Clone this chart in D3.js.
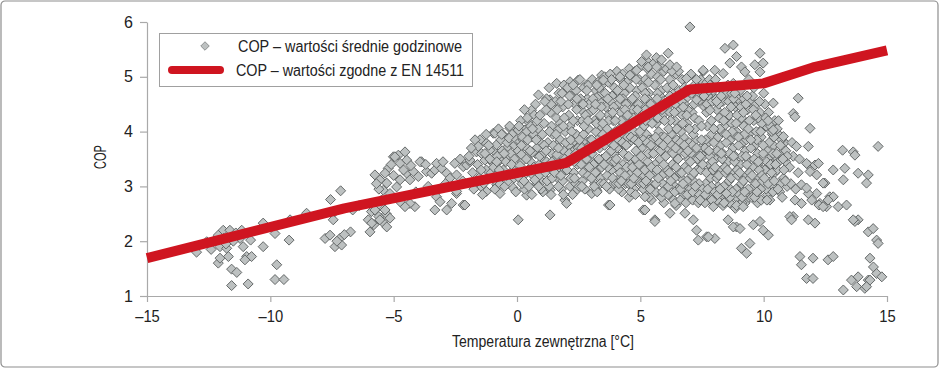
<!DOCTYPE html>
<html>
<head>
<meta charset="utf-8">
<script src="https://cdn.jsdelivr.net/npm/d3@7"></script>
<style>
  html, body { margin: 0; padding: 0; background: #fff; }
  svg { display: block; }
  text { font-family: "Liberation Sans Narrow", "Arial Narrow", "Liberation Sans", Arial, sans-serif; fill: #222; }
</style>
</head>
<body>
<svg id="chart" width="940" height="369"></svg>
<script>
// ---------- DATA ----------
const xTicks = [-15, -10, -5, 0, 5, 10, 15];
const yTicks = [1, 2, 3, 4, 5, 6];
const xTitle = "Temperatura zewnętrzna [°C]";
const yTitle = "COP";
const legendLabels = ["COP – wartości średnie godzinowe", "COP – wartości zgodne z EN 14511"];

// EN 14511 curve: temperature [°C] -> COP
const enTemp = [-15, -7, 2, 7, 10, 12, 15];
const enCOP  = [1.69, 2.60, 3.43, 4.77, 4.88, 5.17, 5.48];

// Hourly average COP points: [temperature, COP]
const hourlyPoints = [
  // cluster around -12 .. -9
  [-12.99,1.80],[-12.58,1.99],[-12.11,2.11],[-12.04,1.90],[-12.11,1.60],[-11.91,2.20],[-11.64,2.20],[-11.77,1.87],
  [-11.70,1.72],[-12.04,1.69],[-11.57,1.49],[-11.36,1.43],[-11.57,1.19],[-11.16,2.20],[-11.23,2.05],[-11.10,1.90],
  [-10.96,1.72],[-11.03,1.66],[-10.76,1.72],[-10.80,2.02],[-10.90,1.22],[-10.29,1.90],[-10.29,2.33],[-9.81,2.14],
  [-9.74,1.57],[-9.81,1.30],[-9.45,1.30],[-9.24,2.02],[-9.20,2.39],[-11.50,2.00],[-11.90,2.05],[-12.30,2.00],
  [-11.40,2.15],[-11.80,1.95],[-12.40,1.85],
  // cluster around -8.5 .. -6.5
  [-8.53,2.51],[-7.78,2.05],[-7.58,2.11],[-7.38,1.90],[-7.18,2.05],[-7.11,1.93],[-7.45,2.39],[-7.56,2.76],
  [-7.15,2.92],[-7.38,2.54],[-6.75,2.17],[-6.66,2.57],[-7.30,2.00],[-7.00,2.12],[-6.40,2.65],
  // cluster around -6 .. -2
  [-5.96,2.17],[-6.03,2.39],[-5.90,2.54],[-5.80,2.30],[-5.60,2.45],[-5.45,2.35],[-5.30,2.50],[-5.49,2.75],
  [-5.76,3.21],[-5.01,3.54],[-4.81,3.57],[-4.54,3.63],[-4.47,3.48],[-4.74,3.42],[-5.22,3.33],[-5.35,3.24],
  [-5.56,3.12],[-5.28,3.06],[-5.42,2.93],[-5.15,2.87],[-4.88,2.99],[-4.74,3.12],[-4.47,3.24],[-4.20,3.27],
  [-4.34,3.12],[-4.00,3.18],[-3.87,3.45],[-3.67,3.27],[-3.46,3.24],[-3.33,3.30],[-3.26,3.42],[-3.06,3.33],
  [-2.85,3.24],[-2.72,3.15],[-2.52,3.42],[-2.45,3.21],[-2.18,3.36],[-2.04,3.39],[-3.26,2.81],[-3.12,2.72],
  [-3.33,2.57],[-2.85,2.57],[-2.65,2.69],[-2.18,2.66],[-2.45,2.87],[-4.14,2.63],[-4.34,2.69],[-4.54,2.63],
  [-4.74,2.72],[-5.62,2.66],[-5.76,2.57],[-5.35,2.57],[-5.15,2.42],[-5.56,2.39],[-5.89,2.33],[-5.28,2.26],
  [-3.93,3.45],[-4.95,3.54],[-5.10,3.40],[-4.60,3.30],[-5.00,3.20],[-5.60,2.95],[-5.70,3.05],[-4.30,3.38],
  [-3.70,3.40],[-3.00,3.45],[-2.30,3.50],[-1.90,3.45],[-4.10,2.90],[-3.60,3.00],[-2.90,3.05],[-2.20,3.10],
  // -2 .. 0
  [-1.44,2.99],[-1.24,3.79],[-1.50,3.85],[-0.96,3.66],[-1.03,3.45],[-1.24,3.30],[-1.03,3.18],[-0.82,3.03],
  [-1.24,2.91],[-0.96,3.97],[-1.64,3.63],[-1.70,3.85],[-1.57,3.73],[-1.44,3.60],[-1.10,3.66],[-0.83,3.76],
  [-0.89,3.97],[-0.56,3.94],[-0.29,4.06],[-0.42,3.70],[-0.62,3.57],[-0.29,3.54],[-0.01,3.60],[-0.69,3.48],
  [-1.30,3.48],[-1.91,3.48],[-2.45,2.91],[-2.11,2.66],[-0.69,2.87],[-0.15,2.97],
  [-1.95,3.55],[-1.80,3.25],[-1.70,3.05],[-1.85,3.70],[-1.60,3.40],[-1.75,2.95],[-1.55,3.15],
  [-1.45,3.30],[-1.35,3.05],[-1.30,3.60],[-1.20,3.15],[-1.10,3.50],[-1.40,2.85],[-1.15,3.75],[-1.05,3.25],[-1.25,3.95],
  [-0.95,3.35],[-0.85,3.20],[-0.80,3.55],[-0.70,3.05],[-0.65,3.85],[-0.90,2.95],[-0.55,3.30],[-0.60,3.65],[-0.75,4.05],[-0.50,3.00],
  [-0.45,3.45],[-0.40,3.80],[-0.35,3.10],[-0.25,3.60],[-0.20,3.95],[-0.15,3.30],[-0.10,3.75],[-0.05,2.90],[-0.30,4.10],[-0.10,3.50],
  [-0.92,3.12],[-0.82,3.45],[-0.72,3.30],[-0.62,3.95],[-0.52,3.60],[-0.42,3.20],[-0.32,3.88],[-0.22,3.40],[-0.12,3.15],[-0.02,3.85],
  // lower outliers 0 .. 4
  [0.39,2.99],[0.39,2.84],[1.00,3.09],[1.34,2.93],[1.94,2.75],[2.01,2.69],[3.03,2.87],[3.71,2.66],[0.05,2.39],[1.34,2.48],
  [3.77,2.66],[3.23,2.93],
  // upper edge 0 .. 3.5
  [0.87,4.67],[1.61,4.88],[2.15,4.91],[2.48,4.94],[2.82,4.85],[3.43,5.03],[1.34,4.58],[0.59,4.39],[0.46,4.18],
  [0.32,4.03],[0.05,4.03],[0.12,3.82],
  // dense core 0 .. 11 (layer 1)
  [0.05,3.65],[0.10,3.15],[0.15,4.20],[0.20,3.45],[0.25,3.85],[0.30,2.95],[0.35,3.55],[0.40,4.00],[0.45,3.30],[0.20,3.05],[0.40,3.70],[0.30,4.40],
  [0.55,3.45],[0.60,3.90],[0.65,3.20],[0.70,4.30],[0.75,3.60],[0.80,3.05],[0.85,4.05],[0.90,3.40],[0.95,3.80],[0.60,2.85],[0.75,4.50],[0.90,3.20],[0.55,4.10],[0.80,3.70],
  [1.05,3.50],[1.10,4.15],[1.15,3.25],[1.20,4.60],[1.25,3.80],[1.30,3.00],[1.35,4.35],[1.40,3.60],[1.45,3.95],[1.05,2.90],[1.20,3.45],[1.30,4.80],[1.45,3.30],[1.10,3.75],[1.40,4.10],
  [1.55,3.50],[1.60,4.25],[1.65,3.15],[1.70,4.70],[1.75,3.85],[1.80,2.95],[1.85,4.45],[1.90,3.65],[1.95,4.00],[1.55,4.55],[1.70,3.35],[1.85,3.10],[1.60,3.75],[1.90,4.85],[1.75,4.15],[1.95,3.30],
  [2.05,3.55],[2.10,4.30],[2.15,3.00],[2.20,4.65],[2.25,3.80],[2.30,3.25],[2.35,4.50],[2.40,3.95],[2.45,3.40],[2.05,4.80],[2.15,4.10],[2.25,2.85],[2.40,4.75],[2.30,3.65],[2.45,4.20],[2.10,3.75],
  [2.55,3.60],[2.60,4.40],[2.65,3.10],[2.70,4.80],[2.75,3.85],[2.80,3.35],[2.85,4.60],[2.90,4.05],[2.95,3.50],[2.55,4.95],[2.65,4.20],[2.75,2.95],[2.85,3.70],[2.95,4.35],[2.60,3.40],[2.90,4.85],[2.70,3.95],
  [3.05,3.60],[3.10,4.40],[3.15,3.05],[3.20,4.75],[3.25,3.85],[3.30,3.30],[3.35,4.55],[3.40,4.10],[3.45,3.50],[3.05,4.95],[3.15,4.20],[3.25,2.90],[3.35,3.70],[3.45,4.85],[3.10,3.40],[3.40,3.15],[3.20,4.00],[3.30,4.65],
  [3.55,3.75],[3.60,4.45],[3.65,3.20],[3.70,4.90],[3.75,3.95],[3.80,3.45],[3.85,4.65],[3.90,4.20],[3.95,3.60],[3.55,5.00],[3.65,4.05],[3.75,2.95],[3.85,3.30],[3.95,4.80],[3.60,3.55],[3.90,3.05],[3.70,4.30],[3.80,4.55],
  [4.05,3.70],[4.10,4.50],[4.15,3.15],[4.20,4.95],[4.25,3.95],[4.30,3.40],[4.35,4.70],[4.40,4.25],[4.45,3.55],[4.05,5.10],[4.15,4.05],[4.25,2.90],[4.35,3.75],[4.45,4.90],[4.10,3.35],[4.40,3.05],[4.20,4.35],[4.30,4.60],[4.45,4.10],
  [4.55,3.80],[4.60,4.55],[4.65,3.25],[4.70,5.00],[4.75,4.00],[4.80,3.50],[4.85,4.75],[4.90,4.30],[4.95,3.65],[4.55,5.15],[4.65,4.15],[4.75,2.95],[4.85,3.85],[4.95,4.95],[4.60,3.40],[4.90,3.10],[4.70,4.40],[4.80,4.65],[4.55,2.80],
  [5.05,3.70],[5.10,4.50],[5.15,3.20],[5.20,4.95],[5.25,3.95],[5.30,3.45],[5.35,4.70],[5.40,4.25],[5.45,3.60],[5.05,5.20],[5.15,4.10],[5.25,2.90],[5.35,3.85],[5.45,5.05],[5.10,3.35],[5.40,3.05],[5.20,4.40],[5.30,4.60],[5.45,2.75],[5.25,5.30],
  [5.55,3.75],[5.60,4.50],[5.65,3.25],[5.70,5.00],[5.75,4.00],[5.80,3.50],[5.85,4.75],[5.90,4.30],[5.95,3.65],[5.55,5.25],[5.65,4.15],[5.75,2.85],[5.85,3.90],[5.95,5.10],[5.60,3.40],[5.90,3.05],[5.70,4.45],[5.80,4.65],[5.95,2.70],[5.65,5.35],
  [6.05,3.70],[6.10,4.45],[6.15,3.20],[6.20,4.95],[6.25,3.95],[6.30,3.40],[6.35,4.70],[6.40,4.20],[6.45,3.55],[6.05,5.15],[6.15,4.05],[6.25,2.80],[6.35,3.80],[6.45,5.05],[6.10,3.30],[6.40,3.00],[6.20,4.35],[6.30,4.60],[6.45,2.65],
  [6.55,3.65],[6.60,4.40],[6.65,3.15],[6.70,4.95],[6.75,3.90],[6.80,3.35],[6.85,4.60],[6.90,4.15],[6.95,3.50],[6.55,5.10],[6.65,4.00],[6.75,2.85],[6.85,3.75],[6.95,5.00],[6.60,3.25],[6.90,2.95],[6.70,4.30],[6.80,4.50],
  [7.05,3.60],[7.10,4.35],[7.15,3.10],[7.20,4.85],[7.25,3.85],[7.30,3.30],[7.35,4.55],[7.40,3.45],[7.45,3.70],[7.05,5.05],[7.15,3.95],[7.25,2.80],[7.35,3.55],[7.45,4.95],[7.10,3.20],[7.40,2.95],[7.20,4.25],[7.30,4.65],
  [7.55,3.55],[7.60,4.45],[7.65,3.05],[7.70,4.90],[7.75,3.80],[7.80,3.40],[7.85,4.60],[7.90,3.95],[7.95,3.60],[7.55,5.10],[7.65,3.85],[7.75,2.75],[7.85,3.15],[7.95,4.75],[7.60,2.90],[7.90,3.30],[7.70,4.50],[7.80,4.95],
  [8.05,3.50],[8.10,4.40],[8.15,3.00],[8.20,4.80],[8.25,3.75],[8.30,3.30],[8.35,4.55],[8.40,4.10],[8.45,3.45],[8.05,4.95],[8.15,3.90],[8.25,2.70],[8.35,3.60],[8.45,4.70],[8.10,3.15],[8.40,2.85],[8.20,4.25],[8.30,4.00],
  [8.55,3.45],[8.60,4.30],[8.65,2.95],[8.70,4.70],[8.75,3.70],[8.80,3.25],[8.85,4.45],[8.90,4.00],[8.95,3.40],[8.55,4.85],[8.65,3.85],[8.75,2.65],[8.85,3.55],[8.95,4.60],[8.60,3.10],[8.90,2.80],[8.70,4.15],[8.80,3.95],
  [9.05,3.40],[9.10,4.25],[9.15,2.90],[9.20,4.60],[9.25,3.65],[9.30,3.20],[9.35,4.40],[9.40,3.95],[9.45,3.35],[9.05,4.75],[9.15,3.80],[9.25,2.70],[9.35,3.50],[9.45,4.55],[9.10,3.05],[9.40,2.80],[9.20,4.10],[9.30,3.85],
  [9.55,3.35],[9.60,4.20],[9.65,2.85],[9.70,4.50],[9.75,3.60],[9.80,3.15],[9.85,4.35],[9.90,3.90],[9.95,3.30],[9.55,4.65],[9.65,3.75],[9.75,2.70],[9.85,3.45],[9.95,4.05],[9.60,3.00],[9.90,2.75],[9.70,4.00],
  [10.05,3.30],[10.10,4.10],[10.15,2.85],[10.20,4.35],[10.25,3.55],[10.30,3.10],[10.35,3.95],[10.40,3.75],[10.45,3.25],[10.05,4.50],[10.15,3.65],[10.25,2.75],[10.35,3.40],[10.45,4.20],[10.10,2.95],[10.40,3.00],
  [10.55,3.30],[10.60,3.95],[10.65,2.90],[10.70,3.60],[10.80,3.15],[10.85,3.80],[10.90,3.45],[10.95,3.00],[10.60,4.20],[10.75,2.80],[10.90,3.65],
  [11.05,3.35],[11.10,3.05],[11.20,3.55],[11.30,2.95],[11.40,3.25],[11.15,3.80],[11.45,3.50],
  // dense core (layer 2)
  [0.12,3.38],[0.22,3.90],[0.32,3.22],[0.42,4.25],[0.18,3.58],[0.48,3.00],
  [0.62,3.62],[0.72,3.12],[0.82,4.20],[0.92,3.55],[0.68,3.95],[0.98,2.95],[0.58,3.30],
  [1.12,3.62],[1.22,3.10],[1.32,4.00],[1.42,3.45],[1.18,4.40],[1.48,3.75],[1.08,3.35],[1.38,2.85],
  [1.62,3.58],[1.72,4.05],[1.82,3.45],[1.92,4.25],[1.68,3.00],[1.98,3.80],[1.58,3.95],[1.78,4.55],[1.88,2.85],
  [2.12,3.60],[2.22,4.00],[2.32,3.45],[2.42,4.40],[2.18,3.15],[2.48,3.70],[2.08,4.50],[2.28,4.85],[2.38,3.05],[2.45,2.95],
  [2.62,3.70],[2.72,4.10],[2.82,3.50],[2.92,4.50],[2.68,3.25],[2.98,3.85],[2.58,4.60],[2.78,4.30],[2.88,3.20],[2.52,3.00],
  [3.12,3.70],[3.22,4.15],[3.32,3.50],[3.42,4.45],[3.18,3.25],[3.48,3.95],[3.08,4.60],[3.28,4.90],[3.38,3.05],[3.02,3.15],[3.45,4.70],
  [3.62,3.85],[3.72,4.20],[3.82,3.65],[3.92,4.45],[3.68,3.35],[3.98,4.00],[3.58,4.70],[3.78,5.05],[3.88,3.15],[3.52,3.05],[3.95,3.45],
  [4.12,3.85],[4.22,4.20],[4.32,3.60],[4.42,4.50],[4.18,3.25],[4.48,3.90],[4.08,4.75],[4.28,5.05],[4.38,3.20],[4.02,3.05],[4.45,3.35],[4.12,2.95],
  [4.62,3.90],[4.72,4.25],[4.82,3.65],[4.92,4.50],[4.68,3.35],[4.98,4.00],[4.58,4.80],[4.78,5.10],[4.88,3.25],[4.52,3.05],[4.95,3.40],[4.62,2.90],[4.80,2.85],
  [5.12,3.85],[5.22,4.20],[5.32,3.60],[5.42,4.50],[5.18,3.30],[5.48,3.85],[5.08,4.80],[5.28,5.15],[5.38,3.20],[5.02,3.05],[5.45,3.35],[5.12,2.95],[5.35,2.80],[5.20,4.70],
  [5.62,3.90],[5.72,4.25],[5.82,3.65],[5.92,4.55],[5.68,3.30],[5.98,3.90],[5.58,4.85],[5.78,5.20],[5.88,3.20],[5.52,3.00],[5.95,3.40],[5.62,2.90],[5.85,2.80],[5.70,4.70],
  [6.12,3.85],[6.22,4.20],[6.32,3.60],[6.42,4.50],[6.18,3.25],[6.48,3.85],[6.08,4.80],[6.28,5.10],[6.38,3.15],[6.02,2.95],[6.45,3.35],[6.12,2.85],[6.35,2.75],[6.20,4.65],
  [6.62,3.80],[6.72,4.15],[6.82,3.60],[6.92,4.40],[6.68,3.25],[6.98,3.80],[6.58,4.75],[6.78,4.80],[6.88,3.10],[6.52,2.95],[6.95,3.30],[6.62,2.75],[6.85,2.70],
  [7.12,3.75],[7.22,4.05],[7.32,3.50],[7.42,4.75],[7.18,3.25],[7.48,3.85],[7.08,4.70],[7.28,4.95],[7.38,3.05],[7.02,2.95],[7.45,3.30],[7.12,2.75],[7.35,2.70],
  [7.62,3.70],[7.72,4.10],[7.82,3.55],[7.92,4.55],[7.68,3.25],[7.98,3.80],[7.58,4.65],[7.78,4.75],[7.88,3.00],[7.52,2.95],[7.95,3.30],[7.62,2.70],[7.85,2.80],
  [8.12,3.65],[8.22,4.05],[8.32,3.50],[8.42,4.35],[8.18,3.20],[8.48,3.80],[8.08,4.60],[8.28,4.65],[8.38,3.00],[8.02,2.90],[8.45,3.25],[8.12,2.75],[8.35,2.65],
  [8.62,3.60],[8.72,4.00],[8.82,3.45],[8.92,4.30],[8.68,3.15],[8.98,3.75],[8.58,4.55],[8.78,4.60],[8.88,2.95],[8.52,2.85],[8.95,3.20],[8.62,2.70],[8.85,2.60],
  [9.12,3.55],[9.22,3.95],[9.32,3.40],[9.42,4.20],[9.18,3.10],[9.48,3.70],[9.08,4.45],[9.28,4.50],[9.38,2.95],[9.02,2.85],[9.45,3.15],[9.12,2.70],
  [9.62,3.50],[9.72,3.85],[9.82,3.30],[9.92,4.15],[9.68,3.05],[9.98,3.60],[9.58,4.40],[9.78,4.25],[9.88,2.95],[9.52,2.80],[9.95,3.10],
  [10.12,3.45],[10.22,3.80],[10.32,3.25],[10.42,3.90],[10.18,3.05],[10.48,3.55],[10.08,4.25],[10.28,4.10],[10.38,2.90],
  [10.62,3.45],[10.72,3.85],[10.82,3.30],[10.68,3.05],[10.95,3.55],[10.55,4.05],
  // dense core (layer 3)
  [0.03,3.25],[0.18,3.75],[0.28,3.10],[0.38,3.50],[0.43,3.85],[0.08,4.10],
  [0.53,3.65],[0.68,3.35],[0.78,3.85],[0.88,3.00],[0.93,4.30],[0.63,4.05],
  [1.03,3.95],[1.18,3.65],[1.28,3.35],[1.38,4.50],[1.43,3.15],[1.13,4.55],
  [1.53,3.25],[1.68,3.70],[1.78,3.20],[1.88,4.10],[1.93,3.50],[1.63,4.40],[1.83,4.70],
  [2.03,3.30],[2.18,3.85],[2.28,4.20],[2.38,3.60],[2.43,4.60],[2.13,4.65],[2.33,3.15],
  [2.53,3.85],[2.68,4.50],[2.78,3.65],[2.88,4.20],[2.93,3.35],[2.63,3.00],[2.83,4.75],
  [3.03,3.85],[3.18,4.50],[3.28,3.75],[3.38,4.30],[3.43,3.35],[3.13,3.00],[3.33,4.80],[3.48,4.15],
  [3.53,3.40],[3.68,4.60],[3.78,3.80],[3.88,4.35],[3.93,3.75],[3.63,3.00],[3.83,4.95],[3.98,4.20],
  [4.03,3.50],[4.18,4.60],[4.28,3.80],[4.38,4.40],[4.43,3.75],[4.13,3.05],[4.33,4.85],[4.48,4.30],[4.23,3.10],
  [4.53,3.55],[4.68,4.60],[4.78,3.85],[4.88,4.40],[4.93,3.80],[4.63,3.05],[4.83,4.95],[4.98,4.20],[4.73,3.15],
  [5.03,3.55],[5.18,4.60],[5.28,3.80],[5.38,4.35],[5.43,3.75],[5.13,3.05],[5.33,4.90],[5.48,4.15],[5.23,3.10],[5.40,2.95],
  [5.53,3.60],[5.68,4.60],[5.78,3.80],[5.88,4.40],[5.93,3.75],[5.63,3.05],[5.83,4.95],[5.98,4.20],[5.73,3.15],[5.90,2.90],
  [6.03,3.55],[6.18,4.55],[6.28,3.75],[6.38,4.35],[6.43,3.70],[6.13,3.00],[6.33,4.85],[6.48,4.05],[6.23,3.10],[6.40,2.90],
  [6.53,3.50],[6.68,4.55],[6.78,3.75],[6.88,4.30],[6.93,3.65],[6.63,2.95],[6.83,4.75],[6.98,4.05],[6.73,3.05],[6.90,2.85],
  [7.03,3.45],[7.18,4.50],[7.28,3.70],[7.38,4.20],[7.43,3.55],[7.13,2.90],[7.33,4.80],[7.48,4.10],[7.23,3.00],[7.40,2.85],
  [7.53,3.40],[7.68,4.35],[7.78,3.65],[7.88,4.20],[7.93,3.45],[7.63,2.85],[7.83,4.85],[7.98,4.05],[7.73,2.95],[7.90,2.75],
  [8.03,3.35],[8.18,4.50],[8.28,3.60],[8.38,4.20],[8.43,3.35],[8.13,2.85],[8.33,4.80],[8.48,3.95],[8.23,2.95],[8.40,2.70],
  [8.53,3.30],[8.68,4.45],[8.78,3.55],[8.88,4.15],[8.93,3.30],[8.63,2.80],[8.83,4.70],[8.98,3.90],[8.73,2.90],[8.90,2.65],
  [9.03,3.25],[9.18,4.35],[9.28,3.55],[9.38,4.05],[9.43,3.25],[9.13,2.80],[9.33,4.65],[9.48,3.85],[9.23,2.90],
  [9.53,3.20],[9.68,4.30],[9.78,3.45],[9.88,4.00],[9.93,3.20],[9.63,2.80],[9.83,4.55],[9.98,3.75],[9.73,2.90],
  [10.03,3.15],[10.18,4.20],[10.28,3.40],[10.38,3.60],[10.43,3.10],[10.13,2.75],[10.33,4.00],[10.48,3.40],
  [10.53,3.60],[10.68,3.75],[10.78,3.50],[10.88,3.10],[10.58,2.95],
  // upper scatter 3 .. 10.5
  [7.01,5.91],[8.43,5.52],[8.77,5.58],[8.90,5.37],[8.63,5.25],[9.10,5.18],[9.24,5.09],[6.13,5.43],[5.86,5.31],
  [6.20,5.22],[5.25,5.40],[5.05,5.28],[5.32,5.18],[5.66,5.18],[4.85,5.12],[4.58,5.03],[4.17,5.00],[3.50,4.94],
  [3.23,4.85],[6.47,5.18],[6.87,4.97],[7.55,5.12],[8.02,5.12],[8.36,5.06],[8.77,4.88],[8.09,4.55],[7.82,4.39],
  [7.28,4.58],[6.74,4.45],[9.85,5.43],[9.64,5.22],[9.98,5.25],[9.85,5.09],[10.39,4.52],[9.40,4.95],[9.60,4.80],[10.00,4.70],
  // lower scatter 3.5 .. 10.5
  [5.12,2.57],[5.59,2.39],[6.40,2.69],[6.81,2.51],[7.15,2.39],[7.28,2.20],[7.69,2.08],[8.02,2.05],
  [8.56,2.39],[8.90,2.26],[8.49,2.87],[5.19,2.81],[7.42,2.75],[7.96,2.63],[9.17,2.63],[5.59,2.36],[5.19,2.57],
  [6.20,2.51],[7.35,2.02],[7.76,2.08],[8.77,2.26],[9.04,2.23],[9.10,1.87],[9.31,1.78],[9.44,1.96],[9.58,2.30],
  [9.98,2.20],[10.19,2.11],[9.85,2.36],
  // right side 10.5 .. 15
  [11.40,4.61],[11.20,4.33],[11.27,4.27],[11.88,4.06],[11.81,3.73],[11.33,3.73],[10.80,3.91],[10.39,4.03],
  [13.20,3.66],[13.63,3.63],[13.70,3.57],[14.64,3.73],[11.81,3.39],[12.08,3.39],[11.88,3.27],[12.15,3.21],
  [12.48,3.06],[12.82,3.30],[13.29,3.33],[13.23,3.12],[13.83,3.24],[14.24,3.21],[14.17,3.06],[12.41,3.06],
  [12.68,2.81],[12.28,2.69],[12.55,2.63],[12.15,2.87],[11.81,2.87],[11.95,2.75],[12.82,2.81],[12.61,2.75],
  [12.24,2.66],[12.41,2.63],[13.02,2.63],[13.36,2.66],[13.83,2.39],[13.70,2.36],[13.63,2.39],[14.24,2.17],
  [14.44,2.23],[14.58,2.02],[14.64,1.96],[11.81,2.39],[12.08,2.33],[11.53,3.03],[11.74,2.97],[11.53,2.69],
  [11.27,2.75],[11.20,2.45],[11.06,2.45],[11.13,2.39],[11.74,3.42],[12.22,3.42],[11.47,1.72],[12.00,1.69],
  [11.53,1.57],[12.61,1.66],[12.82,1.72],[11.74,1.32],[12.00,1.32],[13.23,1.11],[13.56,1.29],[13.83,1.35],
  [13.77,1.17],[14.10,1.14],[14.24,1.29],[14.31,1.69],[14.45,1.53],[14.58,1.41],[14.79,1.35],[14.31,1.29],[14.17,1.17]
];

// ---------- CHART ----------
const svg = d3.select("#chart");
const W = 940, H = 369;

const x = d3.scaleLinear().domain([-15, 15]).range([147, 887]);
const y = d3.scaleLinear().domain([1, 6]).range([296, 22]);

const axisColor = "#a9a9a9";
const red = "#cf1520";
const fontStack = '"Liberation Sans Narrow", "Arial Narrow", "Liberation Sans", Arial, sans-serif';

// outer frame
svg.append("rect")
  .attr("x", 1).attr("y", 1).attr("width", W - 3).attr("height", H - 3)
  .attr("rx", 4).attr("ry", 4)
  .attr("fill", "#fff").attr("stroke", "#8e8e8e").attr("stroke-width", 1.2);

// axes
const gx = svg.append("g").attr("transform", `translate(0,${y(1)})`)
  .call(d3.axisBottom(x).tickValues(xTicks).tickSize(6).tickSizeOuter(0).tickPadding(9)
    .tickFormat(d => d < 0 ? "\u2013" + Math.abs(d) : String(d)));
const gy = svg.append("g").attr("transform", `translate(${x(-15)},0)`)
  .call(d3.axisLeft(y).tickValues(yTicks).tickSize(7).tickSizeOuter(0).tickPadding(7)
    .tickFormat(d3.format("d")));

[gx, gy].forEach(g => {
  g.select(".domain").attr("stroke", axisColor).attr("stroke-width", 1.2);
  g.selectAll(".tick line").attr("stroke", axisColor).attr("stroke-width", 1.2);
  g.selectAll(".tick text").attr("font-size", 16).attr("fill", "#222")
    .attr("font-family", fontStack);
});
// condense the x tick labels slightly (narrow typeface look)
gx.selectAll(".tick text").each(function () {
  const t = d3.select(this);
  const n = t.text().length;
  t.attr("textLength", n * 8.2).attr("lengthAdjust", "spacingAndGlyphs");
});

// axis titles
svg.append("text")
  .attr("x", 543).attr("y", 347).attr("text-anchor", "middle")
  .attr("font-size", 16)
  .attr("textLength", 182).attr("lengthAdjust", "spacingAndGlyphs")
  .text(xTitle);
svg.append("text")
  .attr("transform", `translate(106,157) rotate(-90)`)
  .attr("text-anchor", "middle").attr("font-size", 16)
  .attr("textLength", 24).attr("lengthAdjust", "spacingAndGlyphs")
  .text(yTitle);

// diamond marker
const diamond = d3.symbol().type(d3.symbolSquare).size(50);

svg.append("g").selectAll("path")
  .data(hourlyPoints)
  .join("path")
  .attr("d", diamond)
  .attr("transform", d => `translate(${x(d[0])},${y(d[1])}) rotate(45)`)
  .attr("fill", "#bdc1c1")
  .attr("stroke", "#5e6363")
  .attr("stroke-width", 0.9);

// EN 14511 line
const line = d3.line().x(d => x(d[0])).y(d => y(d[1])).curve(d3.curveLinear);
svg.append("path")
  .datum(enTemp.map((t, i) => [t, enCOP[i]]))
  .attr("d", line)
  .attr("fill", "none")
  .attr("stroke", red)
  .attr("stroke-width", 10)
  .attr("stroke-linejoin", "round");

// legend
const lg = svg.append("g");
lg.append("rect")
  .attr("x", 159.5).attr("y", 33.5).attr("width", 313).attr("height", 53)
  .attr("fill", "#fff").attr("stroke", "#a0a0a0").attr("stroke-width", 1);
lg.append("path")
  .attr("d", d3.symbol().type(d3.symbolSquare).size(36))
  .attr("transform", "translate(205,46) rotate(45)")
  .attr("fill", "#bdc1c1").attr("stroke", "#8a8e8e").attr("stroke-width", 0.9);
lg.append("text").attr("x", 238).attr("y", 52).attr("font-size", 16)
  .attr("textLength", 224).attr("lengthAdjust", "spacingAndGlyphs")
  .text(legendLabels[0]);
lg.append("line")
  .attr("x1", 172).attr("x2", 220).attr("y1", 70).attr("y2", 70)
  .attr("stroke", red).attr("stroke-width", 8).attr("stroke-linecap", "round");
lg.append("text").attr("x", 236).attr("y", 76).attr("font-size", 16)
  .attr("textLength", 228).attr("lengthAdjust", "spacingAndGlyphs")
  .text(legendLabels[1]);
</script>
</body>
</html>
